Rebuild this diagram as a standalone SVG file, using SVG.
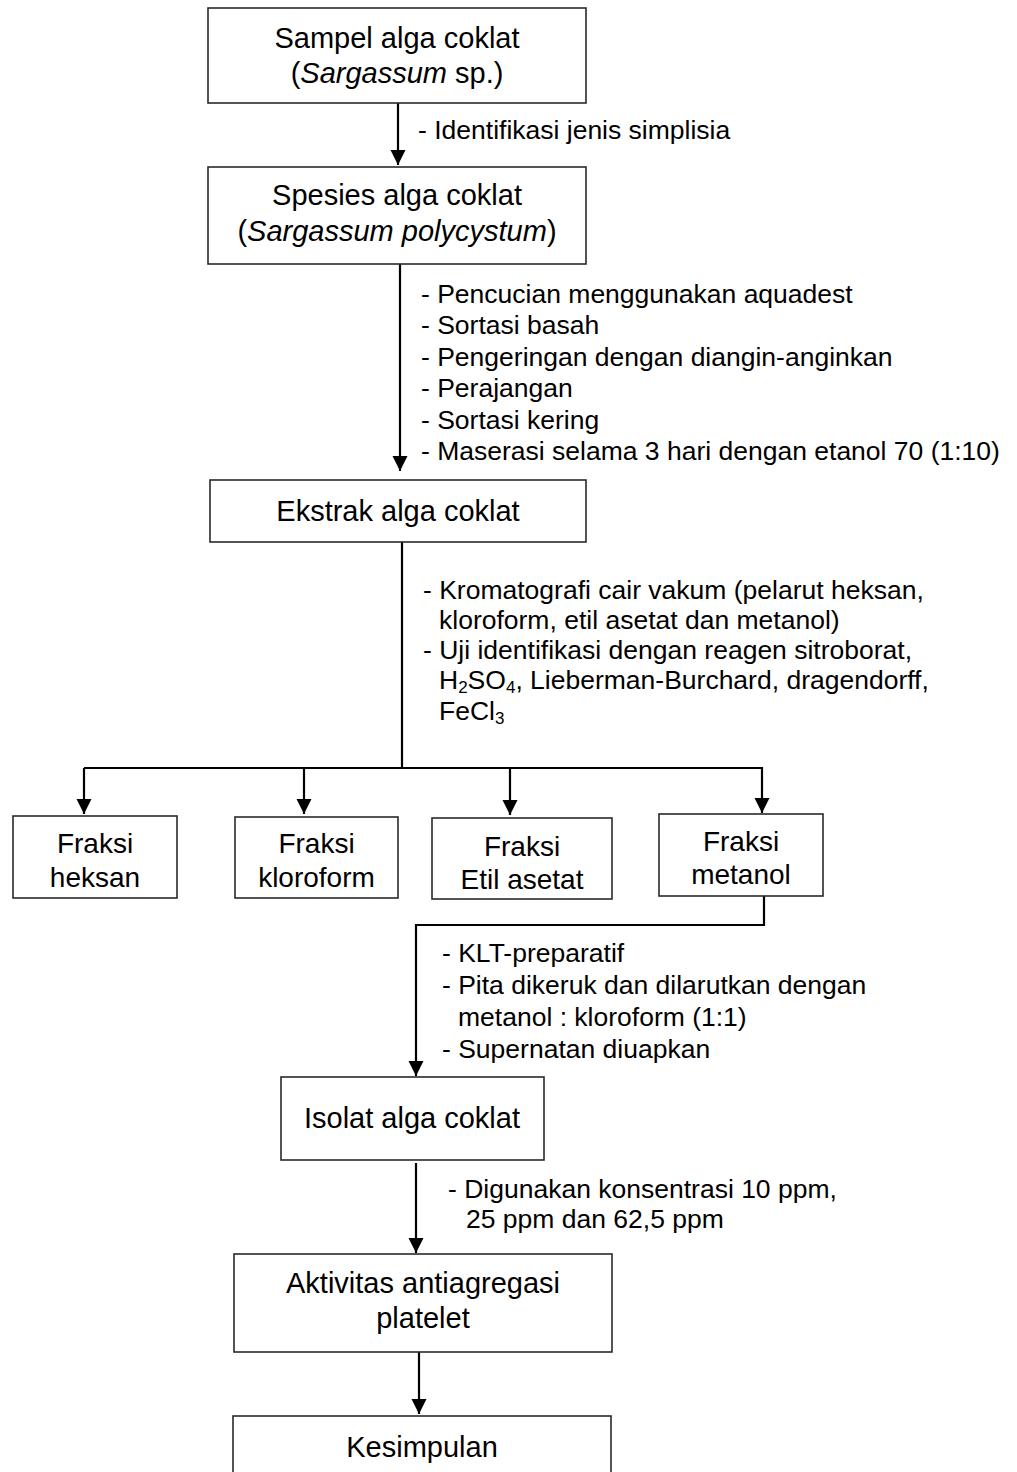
<svg xmlns="http://www.w3.org/2000/svg" width="1017" height="1472" viewBox="0 0 1017 1472">
<style>
  .box { fill: #ffffff; stroke: #2a2a2a; stroke-width: 1.6; }
  .node { font-family: "Liberation Sans", Arial, sans-serif; font-size: 29px; fill: #000; text-anchor: middle; }
  .frac { font-family: "Liberation Sans", Arial, sans-serif; font-size: 28px; fill: #000; text-anchor: middle; }
  .lbl { font-family: "Liberation Sans", Arial, sans-serif; font-size: 26.5px; fill: #000; }
  .con { fill: none; stroke: #000; stroke-width: 2.2; }
  .arr { marker-end: url(#ah); }
  .sub { font-size: 17px; }
</style>
<defs>
  <marker id="ah" markerUnits="userSpaceOnUse" markerWidth="16" markerHeight="16" refX="15" refY="7.5" orient="auto">
    <path d="M0,0 L15,7.5 L0,15 z" fill="#000"/>
  </marker>
</defs>
<rect width="1017" height="1472" fill="#ffffff"/>

<g id="connectors">
  <line class="con arr" x1="398" y1="103" x2="398" y2="165"/>
  <line class="con arr" x1="400" y1="264" x2="400" y2="471"/>
  <polyline class="con" points="402,542 402,768"/>
  <line class="con" x1="84" y1="768" x2="763" y2="768"/>
  <line class="con arr" x1="84" y1="768" x2="84" y2="814"/>
  <line class="con arr" x1="304" y1="768" x2="304" y2="814"/>
  <line class="con arr" x1="510" y1="768" x2="510" y2="815"/>
  <line class="con arr" x1="762" y1="767" x2="762" y2="813"/>
  <polyline class="con arr" points="764,896 764,925 416,925 416,1076"/>
  <line class="con arr" x1="416" y1="1163" x2="416" y2="1253"/>
  <line class="con arr" x1="419" y1="1352" x2="419" y2="1414"/>
</g>

<g id="labels">
  <text class="lbl" x="418" y="139">- Identifikasi jenis simplisia</text>
  <text class="lbl" x="421" y="303">- Pencucian menggunakan aquadest</text>
  <text class="lbl" x="421" y="334">- Sortasi basah</text>
  <text class="lbl" x="421" y="366">- Pengeringan dengan diangin-anginkan</text>
  <text class="lbl" x="421" y="397">- Perajangan</text>
  <text class="lbl" x="421" y="429">- Sortasi kering</text>
  <text class="lbl" x="421" y="460">- Maserasi selama 3 hari dengan etanol 70 (1:10)</text>
  <text class="lbl" x="423" y="599">- Kromatografi cair vakum (pelarut heksan,</text>
  <text class="lbl" x="439" y="629">kloroform, etil asetat dan metanol)</text>
  <text class="lbl" x="423" y="659">- Uji identifikasi dengan reagen sitroborat,</text>
  <text class="lbl" x="439" y="689">H<tspan class="sub" dy="4">2</tspan><tspan dy="-4">SO</tspan><tspan class="sub" dy="4">4</tspan><tspan dy="-4">, Lieberman-Burchard, dragendorff,</tspan></text>
  <text class="lbl" x="439" y="720">FeCl<tspan class="sub" dy="4">3</tspan></text>
  <text class="lbl" x="442" y="962">- KLT-preparatif</text>
  <text class="lbl" x="442" y="994">- Pita dikeruk dan dilarutkan dengan</text>
  <text class="lbl" x="458" y="1026">metanol : kloroform (1:1)</text>
  <text class="lbl" x="442" y="1058">- Supernatan diuapkan</text>
  <text class="lbl" x="448" y="1198">- Digunakan konsentrasi 10 ppm,</text>
  <text class="lbl" x="466" y="1228">25 ppm dan 62,5 ppm</text>
</g>

<g id="n-sampel">
  <rect class="box" x="208" y="8" width="378" height="95"/>
  <text class="node" x="397" y="48">Sampel alga coklat</text>
  <text class="node" x="397" y="83">(<tspan font-style="italic">Sargassum</tspan> sp.)</text>
</g>
<g id="n-spesies">
  <rect class="box" x="208" y="167" width="378" height="97"/>
  <text class="node" x="397" y="205">Spesies alga coklat</text>
  <text class="node" x="397" y="241">(<tspan font-style="italic">Sargassum polycystum</tspan>)</text>
</g>
<g id="n-ekstrak">
  <rect class="box" x="210" y="480" width="376" height="62"/>
  <text class="node" x="398" y="521">Ekstrak alga coklat</text>
</g>
<g id="n-heksan">
  <rect class="box" x="13" y="816" width="164" height="82"/>
  <text class="frac" x="95" y="853">Fraksi</text>
  <text class="frac" x="95" y="887">heksan</text>
</g>
<g id="n-kloroform">
  <rect class="box" x="235" y="817" width="163" height="81"/>
  <text class="frac" x="316.5" y="853">Fraksi</text>
  <text class="frac" x="316.5" y="887">kloroform</text>
</g>
<g id="n-etil">
  <rect class="box" x="432" y="818" width="180" height="81"/>
  <text class="frac" x="522" y="856">Fraksi</text>
  <text class="frac" x="522" y="889">Etil asetat</text>
</g>
<g id="n-metanol">
  <rect class="box" x="659" y="814" width="164" height="82"/>
  <text class="frac" x="741" y="851">Fraksi</text>
  <text class="frac" x="741" y="884">metanol</text>
</g>
<g id="n-isolat">
  <rect class="box" x="281" y="1077" width="263" height="83"/>
  <text class="node" x="412" y="1128">Isolat alga coklat</text>
</g>
<g id="n-aktivitas">
  <rect class="box" x="234" y="1254" width="378" height="98"/>
  <text class="node" x="423" y="1293">Aktivitas antiagregasi</text>
  <text class="node" x="423" y="1328">platelet</text>
</g>
<g id="n-kesimpulan">
  <rect class="box" x="233" y="1416" width="378" height="80"/>
  <text class="node" x="422" y="1457">Kesimpulan</text>
</g>
</svg>
